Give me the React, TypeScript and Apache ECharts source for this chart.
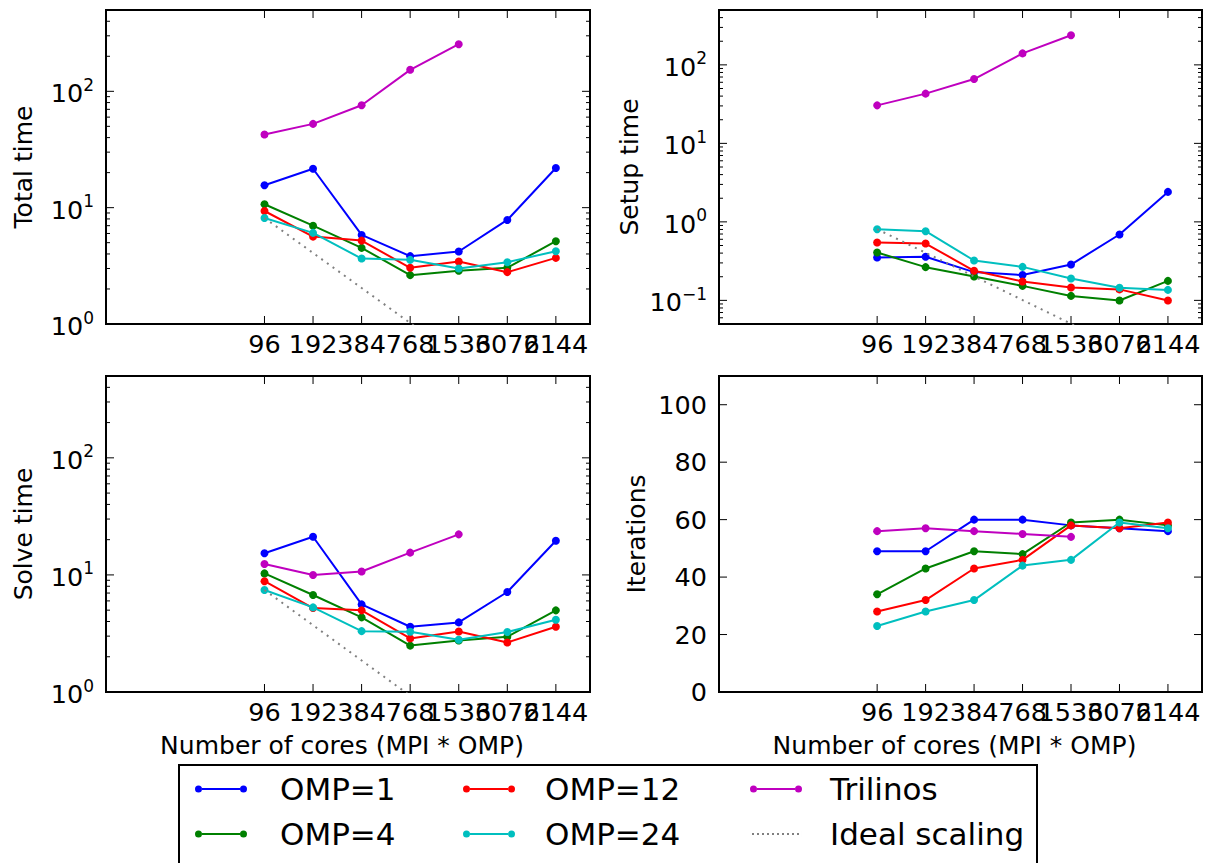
import React, { useEffect, useRef } from 'react';
import * as echarts from 'echarts';

const FONT = '"DejaVu Sans", sans-serif';

// x positions (number of cores)
const cores = [96, 192, 384, 768, 1536, 3072, 6144];
const trilinosCores = [96, 192, 384, 768, 1536];
const xTicks = [96, 192, 384, 768, 1536, 3072, 6144];

// Total time
const totalOmp1 = [15.6, 21.6, 5.83, 3.83, 4.2, 7.84, 21.9];
const totalOmp4 = [10.7, 7.0, 4.51, 2.63, 2.87, 3.04, 5.15];
const totalOmp12 = [9.36, 5.64, 5.21, 3.04, 3.44, 2.79, 3.7];
const totalOmp24 = [8.15, 6.07, 3.65, 3.56, 3.0, 3.4, 4.22];
const totalTrilinos = [42.5, 52.5, 75.9, 153, 254];
const totalIdeal = [8.15, 4.08, 2.04, 1.02, 0.51, 0.255, 0.127];

// Setup time
const setupOmp1 = [0.352, 0.359, 0.229, 0.21, 0.286, 0.69, 2.41];
const setupOmp4 = [0.407, 0.265, 0.201, 0.153, 0.114, 0.0997, 0.177];
const setupOmp12 = [0.546, 0.53, 0.238, 0.174, 0.146, 0.138, 0.0997];
const setupOmp24 = [0.807, 0.76, 0.322, 0.267, 0.19, 0.145, 0.136];
const setupTrilinos = [30.5, 43, 66, 140, 238];
const setupIdeal = [0.807, 0.404, 0.202, 0.101, 0.0504, 0.0252, 0.0126];

// Solve time
const solveOmp1 = [15.3, 21.2, 5.6, 3.61, 3.93, 7.15, 19.6];
const solveOmp4 = [10.3, 6.74, 4.34, 2.49, 2.75, 2.96, 4.98];
const solveOmp12 = [8.83, 5.21, 4.98, 2.87, 3.29, 2.65, 3.61];
const solveOmp24 = [7.44, 5.28, 3.31, 3.27, 2.79, 3.25, 4.14];
const solveTrilinos = [12.4, 10.0, 10.7, 15.5, 22.2];
const solveIdeal = [7.44, 3.72, 1.86, 0.93, 0.465, 0.233, 0.116];

// Iterations
const itOmp1 = [49, 49, 60, 60, 58, 57, 56];
const itOmp4 = [34, 43, 49, 48, 59, 60, 58];
const itOmp12 = [28, 32, 43, 46, 58, 57, 59];
const itOmp24 = [23, 28, 32, 44, 46, 59, 57];
const itTrilinos = [56, 57, 56, 55, 54];

// tick values
const timeMajorTicks = [1, 10, 100];
const timeMinorTicks = [2, 3, 4, 5, 6, 7, 8, 9, 20, 30, 40, 50, 60, 70, 80, 90, 200, 300, 400];
const setupMajorTicks = [0.1, 1, 10, 100];
const setupMinorTicks = [0.06, 0.07, 0.08, 0.09, 0.2, 0.3, 0.4, 0.5, 0.6, 0.7, 0.8, 0.9, 2, 3, 4, 5, 6, 7, 8, 9, 20, 30, 40, 50, 60, 70, 80, 90, 200, 300, 400];
const itMajorTicks = [0, 20, 40, 60, 80, 100];

const seriesNames = ['OMP=1', 'OMP=4', 'OMP=12', 'OMP=24', 'Trilinos', 'Ideal scaling'];
const seriesColors = ['#0000ff', '#008000', '#ff0000', '#00bfbf', '#bf00bf', '#808080'];

const TICK_FONT = 25.5;
const NAME_FONT = 25;
const LEGEND_FONT = 31;

const LINE_ICON =
  'path://M0,3.5a3.5,3.5 0 1,0 7,0a3.5,3.5 0 1,0 -7,0Z M7,2.5H45V4.5H7Z M45,3.5a3.5,3.5 0 1,0 7,0a3.5,3.5 0 1,0 -7,0Z';
const DOT_ICON =
  'path://M0,0H0.01V7H0Z M2,2.5h2v2h-2Z M7,2.5h2v2h-2Z M12,2.5h2v2h-2Z M17,2.5h2v2h-2Z M22,2.5h2v2h-2Z M27,2.5h2v2h-2Z M32,2.5h2v2h-2Z M37,2.5h2v2h-2Z M42,2.5h2v2h-2Z M47,2.5h2v2h-2Z M51.99,0H52V7H51.99Z';

const panels = [
  {
    grid: { left: 106, top: 10, width: 484, height: 314 },
    yType: 'log', yMin: 1, yMax: 500, yName: 'Total time', nameGap: 70,
    data: [totalOmp1, totalOmp4, totalOmp12, totalOmp24, totalTrilinos, totalIdeal],
    major: timeMajorTicks, minor: timeMinorTicks, xName: '',
  },
  {
    grid: { left: 719, top: 10, width: 483, height: 314 },
    yType: 'log', yMin: 0.05, yMax: 500, yName: 'Setup time', nameGap: 77,
    data: [setupOmp1, setupOmp4, setupOmp12, setupOmp24, setupTrilinos, setupIdeal],
    major: setupMajorTicks, minor: setupMinorTicks, xName: '',
  },
  {
    grid: { left: 106, top: 376, width: 484, height: 316 },
    yType: 'log', yMin: 1, yMax: 500, yName: 'Solve time', nameGap: 70,
    data: [solveOmp1, solveOmp4, solveOmp12, solveOmp24, solveTrilinos, solveIdeal],
    major: timeMajorTicks, minor: timeMinorTicks, xName: 'Number of cores (MPI * OMP)',
  },
  {
    grid: { left: 719, top: 376, width: 483, height: 316 },
    yType: 'value', yMin: 0, yMax: 110, yName: 'Iterations', nameGap: 70,
    data: [itOmp1, itOmp4, itOmp12, itOmp24, itTrilinos, null],
    major: itMajorTicks, minor: [] as number[], xName: 'Number of cores (MPI * OMP)',
  },
];

const logLabel = (v: number) => {
  const e = Math.log10(v);
  const r = Math.round(e);
  if (Math.abs(e - r) > 1e-6) return '';
  return '{b|10}{s|' + (r < 0 ? '\u2212' + -r : String(r)) + '}';
};

const renderTicks = (params: any, api: any) => {
  const cs = params.coordSys;
  const kind = api.value(2);
  const pt = api.coord([api.value(0), api.value(1)]);
  const style = { stroke: '#000', lineWidth: 1 };
  const bottom = cs.y + cs.height;
  const right = cs.x + cs.width;
  if (kind === 0) {
    const x = pt[0];
    return {
      type: 'group',
      children: [
        { type: 'line', shape: { x1: x, y1: bottom, x2: x, y2: bottom - 8 }, style },
        { type: 'line', shape: { x1: x, y1: cs.y, x2: x, y2: cs.y + 8 }, style },
        {
          type: 'text',
          style: {
            text: String(api.value(0)), x, y: bottom + 7, align: 'center', verticalAlign: 'top',
            fontSize: TICK_FONT, fontFamily: FONT, fill: '#000',
          },
        },
      ],
    };
  }
  const y = pt[1];
  const len = kind === 1 ? 8 : 4;
  return {
    type: 'group',
    children: [
      { type: 'line', shape: { x1: cs.x, y1: y, x2: cs.x + len, y2: y }, style },
      { type: 'line', shape: { x1: right, y1: y, x2: right - len, y2: y }, style },
    ],
  };
};

function buildOption() {
  const grid: any[] = [];
  const xAxis: any[] = [];
  const yAxis: any[] = [];
  const series: any[] = [];
  panels.forEach((p, i) => {
    grid.push({ ...p.grid, show: true, borderColor: '#000', borderWidth: 2, backgroundColor: 'transparent' });
    xAxis.push({
      type: 'log', logBase: 10, min: 10, max: 10000, gridIndex: i,
      axisLine: { show: false }, axisTick: { show: false }, axisLabel: { show: false }, splitLine: { show: false },
      name: p.xName, nameLocation: 'middle', nameGap: 41,
      nameTextStyle: { fontSize: NAME_FONT, fontFamily: FONT, color: '#000', padding: [0, 12, 0, 0] },
    });
    const isLog = p.yType === 'log';
    yAxis.push({
      type: p.yType, gridIndex: i, min: p.yMin, max: p.yMax,
      ...(isLog ? { logBase: 10 } : { interval: 20 }),
      axisLine: { show: false }, axisTick: { show: false }, splitLine: { show: false },
      axisLabel: {
        margin: 12, color: '#000', fontSize: TICK_FONT, fontFamily: FONT,
        formatter: isLog ? logLabel : (v: number) => (v % 20 === 0 && v <= 100 ? String(v) : ''),
        rich: {
          b: { fontSize: TICK_FONT, fontFamily: FONT, color: '#000', verticalAlign: 'bottom', padding: [4, 0, 0, 0] },
          s: { fontSize: 17, fontFamily: FONT, color: '#000', verticalAlign: 'top' },
        },
      },
      name: p.yName, nameLocation: 'middle', nameGap: p.nameGap,
      nameTextStyle: { fontSize: NAME_FONT, fontFamily: FONT, color: '#000' },
    });
    p.data.forEach((vals, k) => {
      if (!vals) return;
      const xs = k === 4 ? trilinosCores : cores;
      const isIdeal = k === 5;
      series.push({
        name: seriesNames[k], type: 'line', xAxisIndex: i, yAxisIndex: i,
        data: xs.map((x, j) => [x, vals[j]]),
        symbol: isIdeal ? 'none' : 'circle', symbolSize: 8, showSymbol: !isIdeal,
        color: seriesColors[k],
        itemStyle: { color: seriesColors[k] },
        lineStyle: { color: seriesColors[k], width: 2, type: isIdeal ? [2, 5] : 'solid' },
        clip: true, silent: true, z: 2 + k * 0.01,
      });
    });
    const xRef = 96;
    const yRef = p.yMin;
    series.push({
      type: 'custom', xAxisIndex: i, yAxisIndex: i, silent: true, clip: false, z: 5,
      renderItem: renderTicks,
      data: [
        ...xTicks.map((v) => [v, yRef, 0]),
        ...p.major.map((v) => [xRef, v, 1]),
        ...p.minor.map((v) => [xRef, v, 2]),
      ],
    });
  });

  const legendBase = {
    orient: 'vertical', top: 773, itemGap: 13, itemWidth: 52, itemHeight: 7, padding: 0,
    selectedMode: false,
  };
  const legendText = (pad: number) => ({
    fontSize: LEGEND_FONT, lineHeight: 32, fontFamily: FONT, color: '#000', padding: [0, 0, 0, pad],
  });
  const legend = [
    { ...legendBase, left: 195, textStyle: legendText(28), data: [{ name: seriesNames[0], icon: LINE_ICON }, { name: seriesNames[1], icon: LINE_ICON }] },
    { ...legendBase, left: 463, textStyle: legendText(25), data: [{ name: seriesNames[2], icon: LINE_ICON }, { name: seriesNames[3], icon: LINE_ICON }] },
    { ...legendBase, left: 750, textStyle: legendText(23), data: [{ name: seriesNames[4], icon: LINE_ICON }, { name: seriesNames[5], icon: DOT_ICON }] },
  ];

  return {
    animation: false,
    backgroundColor: '#ffffff',
    textStyle: { fontFamily: FONT },
    grid, xAxis, yAxis, series, legend,
    graphic: [
      {
        type: 'rect', z: -1,
        shape: { x: 179, y: 765, width: 858, height: 120 },
        style: { fill: '#ffffff', stroke: '#000', lineWidth: 2 },
      },
    ],
  };
}

export default function App() {
  const ref = useRef<HTMLDivElement>(null);
  useEffect(() => {
    document.body.style.margin = '0';
    if (!ref.current) return;
    const chart = echarts.init(ref.current, undefined, { renderer: 'svg' });
    chart.setOption(buildOption() as any);
    return () => chart.dispose();
  }, []);
  return <div ref={ref} style={{ width: 1207, height: 863 }} />;
}
